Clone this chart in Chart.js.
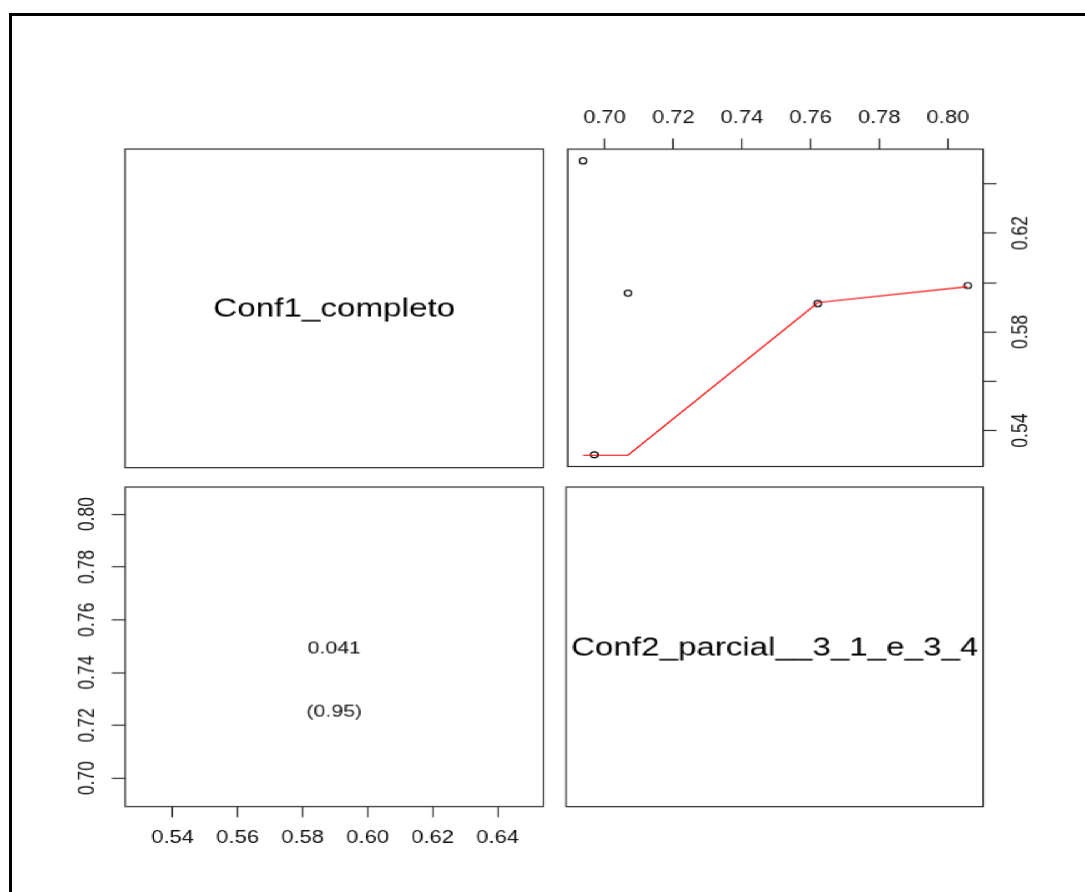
<!DOCTYPE html>
<html>
<head>
<meta charset="utf-8">
<script src="https://cdn.jsdelivr.net/npm/chart.js@4.4.1/dist/chart.umd.min.js"></script>
<style>
  html, body { margin: 0; padding: 0; background: #ffffff; overflow: hidden; width: 1085px; height: 892px; }
  #frame { position: absolute; left: 9px; top: 13px; width: 2000px; height: 2000px;
           border-left: 3px solid #000; border-top: 3px solid #000; box-sizing: border-box; }
  #stage { position: absolute; left: 0; top: 0; width: 868px; height: 892px;
           transform: scaleX(1.25); transform-origin: 0 0; }
  .wrap { position: absolute; }
</style>
</head>
<body>
<div id="frame"></div>
<div id="stage">
  <div class="wrap" id="w11"><canvas id="c11"></canvas></div>
  <div class="wrap" id="w12"><canvas id="c12"></canvas></div>
  <div class="wrap" id="w21"><canvas id="c21"></canvas></div>
  <div class="wrap" id="w22"><canvas id="c22"></canvas></div>
</div>
<script>
// ---------------- data ----------------
const varLabels = ['Conf1_completo', 'Conf2_parcial__3_1_e_3_4'];
const conf1 = [0.6493, 0.5302, 0.5957, 0.5915, 0.5988];
const conf2 = [0.6937, 0.6970, 0.7068, 0.7621, 0.8058];
const smoothX = [0.6937, 0.6970, 0.7068, 0.7621, 0.8058];
const smoothY = [0.5300, 0.5300, 0.5300, 0.5919, 0.5983];
const conf1Ticks = [0.54, 0.56, 0.58, 0.60, 0.62, 0.64];
const conf2Ticks = [0.70, 0.72, 0.74, 0.76, 0.78, 0.80];
const conf1TickLabelsRight = ['0.54', '', '0.58', '', '0.62', ''];
const conf1TickLabelsBottom = ['0.54', '0.56', '0.58', '0.60', '0.62', '0.64'];
const conf2TickLabels = ['0.70', '0.72', '0.74', '0.76', '0.78', '0.80'];
const corValue = '0.041';
const corPValue = '(0.95)';

// ---------------- layout (logical, stage is stretched 1.25x horizontally) ----------------
const FONT = "'Liberation Sans', Arial, Helvetica, sans-serif";
const INK = '#111111';
const BOX = '#2a2a2a';
const PW = 333.6;
const COL = [100, 452.8];
const ROWT = [149, 487.3];
const ROWH = [317.7, 318.7];
const AX = 60, AY = 60, M = 4;
const TICK = 10.7;
const TICKFONT = 17.5;

Chart.defaults.font.family = FONT;
Chart.defaults.color = INK;
Chart.defaults.animation = false;

function range4(arr) {
  const lo = Math.min(...arr), hi = Math.max(...arr);
  const d = (hi - lo) * 0.04;
  return [lo - d, hi + d];
}
const r1 = range4(conf1);
const r2 = range4(conf2);

function place(id, left, top, w, h) {
  const el = document.getElementById(id);
  el.style.left = left + 'px'; el.style.top = top + 'px';
  el.style.width = w + 'px'; el.style.height = h + 'px';
}

const boxPlugin = {
  id: 'panelBox',
  afterDraw(chart) {
    const a = chart.chartArea, ctx = chart.ctx;
    ctx.save();
    ctx.strokeStyle = BOX; ctx.lineWidth = 1.2;
    ctx.strokeRect(a.left, a.top, a.right - a.left, a.bottom - a.top);
    ctx.restore();
  }
};

function labelPlugin(text, size) {
  return {
    id: 'diagLabel',
    afterDraw(chart) {
      const a = chart.chartArea, ctx = chart.ctx;
      ctx.save();
      ctx.fillStyle = '#000';
      ctx.font = size + 'px ' + FONT;
      ctx.textAlign = 'center'; ctx.textBaseline = 'middle';
      ctx.fillText(text, (a.left + a.right) / 2, (a.top + a.bottom) / 2 + 1);
      ctx.restore();
    }
  };
}

function fixedTicks(values) {
  return (scale) => { scale.ticks = values.map(v => ({ value: v })); };
}
function fitX(scale) { scale.height = AX; scale.paddingLeft = 0; scale.paddingRight = 0; }
function fitY(scale) { scale.width = AY; scale.paddingTop = 0; scale.paddingBottom = 0; }

const gridOpts = { display: true, drawOnChartArea: false, drawTicks: true, tickLength: TICK, tickColor: BOX, tickWidth: 1.2 };

function hiddenScales() {
  return {
    x: { type: 'linear', display: false, min: 0, max: 1 },
    y: { type: 'linear', display: false, min: 0, max: 1 }
  };
}

// ---------------- panel [1,1]: label ----------------
place('w11', COL[0] - M, ROWT[0] - M, PW + 2 * M, ROWH[0] + 2 * M);
new Chart(document.getElementById('c11'), {
  type: 'scatter',
  data: { datasets: [] },
  options: {
    responsive: true, maintainAspectRatio: false,
    layout: { padding: M },
    plugins: { legend: { display: false }, tooltip: { enabled: false } },
    scales: hiddenScales()
  },
  plugins: [boxPlugin, labelPlugin(varLabels[0], 26.5)]
});

// ---------------- panel [2,2]: label ----------------
place('w22', COL[1] - M, ROWT[1] - M, PW + 2 * M, ROWH[1] + 2 * M);
new Chart(document.getElementById('c22'), {
  type: 'scatter',
  data: { datasets: [] },
  options: {
    responsive: true, maintainAspectRatio: false,
    layout: { padding: M },
    plugins: { legend: { display: false }, tooltip: { enabled: false } },
    scales: hiddenScales()
  },
  plugins: [boxPlugin, labelPlugin(varLabels[1], 26.5)]
});

// ---------------- panel [1,2]: scatter with smoother ----------------
place('w12', COL[1] - M, ROWT[0] - AX, M + PW + AY, AX + ROWH[0] + M);
new Chart(document.getElementById('c12'), {
  type: 'scatter',
  data: {
    datasets: [
      {
        label: 'points',
        data: conf2.map((x, i) => ({ x: x, y: conf1[i] })),
        showLine: false,
        pointRadius: 3,
        pointBorderWidth: 1.2,
        pointBorderColor: '#000',
        pointBackgroundColor: 'rgba(0,0,0,0)',
        order: 2
      },
      {
        label: 'smooth',
        data: smoothX.map((x, i) => ({ x: x, y: smoothY[i] })),
        showLine: true,
        borderColor: '#ff0000',
        borderWidth: 1.2,
        pointRadius: 0,
        tension: 0,
        order: 1
      }
    ]
  },
  options: {
    responsive: true, maintainAspectRatio: false,
    layout: { padding: { left: M, bottom: M, top: 0, right: 0 } },
    plugins: { legend: { display: false }, tooltip: { enabled: false } },
    scales: {
      x: {
        type: 'linear', position: 'top', min: r2[0], max: r2[1],
        afterBuildTicks: fixedTicks(conf2Ticks),
        afterFit: fitX,
        grid: gridOpts,
        border: { display: false },
        ticks: {
          autoSkip: false, maxRotation: 0, minRotation: 0, padding: 9.5,
          font: { size: TICKFONT }, color: INK,
          callback: (v, i) => conf2TickLabels[i]
        }
      },
      y: {
        type: 'linear', position: 'right', min: r1[0], max: r1[1],
        afterBuildTicks: fixedTicks(conf1Ticks),
        afterFit: fitY,
        grid: gridOpts,
        border: { display: false },
        ticks: {
          autoSkip: false, minRotation: 90, maxRotation: 90, crossAlign: 'center', padding: 2.6,
          font: { size: TICKFONT }, color: INK,
          callback: (v, i) => conf1TickLabelsRight[i]
        }
      }
    }
  },
  plugins: [boxPlugin]
});

// ---------------- panel [2,1]: correlation ----------------
const corPlugin = {
  id: 'corText',
  afterDraw(chart) {
    const a = chart.chartArea, ctx = chart.ctx;
    const cx = (a.left + a.right) / 2, h = a.bottom - a.top;
    ctx.save();
    ctx.fillStyle = INK;
    ctx.font = '17px ' + FONT;
    ctx.textAlign = 'center'; ctx.textBaseline = 'middle';
    ctx.fillText(corValue, cx, a.top + h * 0.5 + 2);
    ctx.fillText(corPValue, cx, a.top + h * 0.7 + 1);
    ctx.restore();
  }
};
place('w21', COL[0] - AY, ROWT[1] - M, AY + PW + M, M + ROWH[1] + AX);
new Chart(document.getElementById('c21'), {
  type: 'scatter',
  data: { datasets: [{ label: 'none', data: [] }] },
  options: {
    responsive: true, maintainAspectRatio: false,
    layout: { padding: { top: M, right: M, left: 0, bottom: 0 } },
    plugins: { legend: { display: false }, tooltip: { enabled: false } },
    scales: {
      x: {
        type: 'linear', position: 'bottom', min: r1[0], max: r1[1],
        afterBuildTicks: fixedTicks(conf1Ticks),
        afterFit: fitX,
        grid: gridOpts,
        border: { display: false },
        ticks: {
          autoSkip: false, maxRotation: 0, minRotation: 0, padding: 10.3,
          font: { size: TICKFONT }, color: INK,
          callback: (v, i) => conf1TickLabelsBottom[i]
        }
      },
      y: {
        type: 'linear', position: 'left', min: r2[0], max: r2[1],
        afterBuildTicks: fixedTicks(conf2Ticks),
        afterFit: fitY,
        grid: gridOpts,
        border: { display: false },
        ticks: {
          autoSkip: false, minRotation: 90, maxRotation: 90, crossAlign: 'center', padding: 1.9,
          font: { size: TICKFONT }, color: INK,
          callback: (v, i) => conf2TickLabels[i]
        }
      }
    }
  },
  plugins: [boxPlugin, corPlugin]
});
</script>
</body>
</html>
